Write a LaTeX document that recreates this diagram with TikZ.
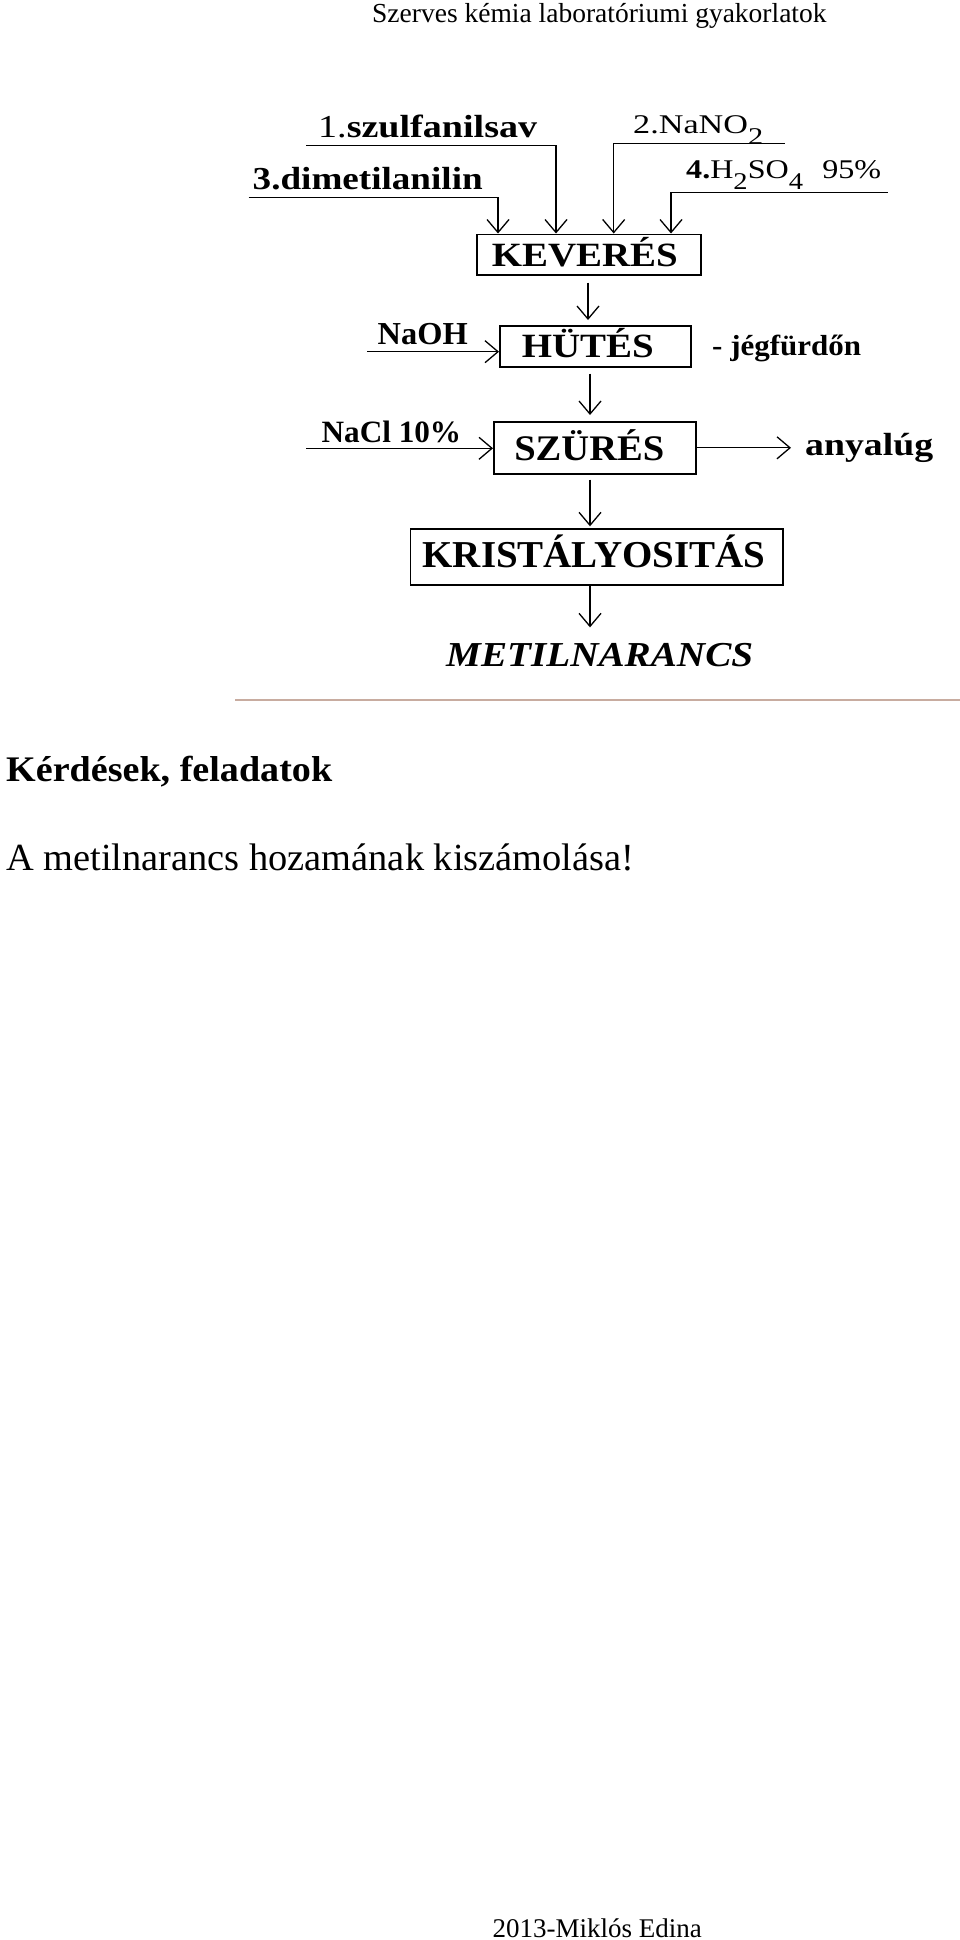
\documentclass[tikz,border=0pt]{standalone}
\usepackage{fontspec}
\setmainfont{Liberation Serif}
\usepackage{graphicx}
\usetikzlibrary{arrows.meta}
\definecolor{rulecol}{RGB}{200,172,160}
\newcommand{\wfit}[2]{\resizebox{#1}{\height}{#2}}
\newcommand{\fs}[1]{\fontsize{#1}{#1}\selectfont}
\begin{document}
\begin{tikzpicture}[x=1pt,y=-1pt]
\tikzset{
  box/.style={draw, line width=1.6pt, inner sep=0pt, text depth=0pt, anchor=north west},
  lbl/.style={inner sep=0pt, anchor=base west},
  arr/.style={line width=1.3pt, -{Straight Barb[length=13pt,width=22pt]}},
}
\fill[white] (0,0) rectangle (960,1940);
\useasboundingbox (0,0) rectangle (960,1940);

% header
\node[lbl] (hdr) at (372,23) {\fs{27.5}Szerves kémia laboratóriumi gyakorlatok};

% input labels
\node[lbl] (t1) at (318,137.5) {\wfit{219pt}{\fs{32}1.\textbf{szulfanilsav}}};
\node[lbl] (t3) at (252.5,189) {\wfit{230pt}{\fs{32}\textbf{3.dimetilanilin}}};
\node[lbl] (t2) at (633,134) {\wfit{130pt}{\fs{27}2.NaNO\raisebox{-0.4em}{\fs{24}2}}};
\node[lbl] (t4) at (686,178.5) {\wfit{195pt}{\fs{27}\textbf{4.}H\raisebox{-0.4em}{\fs{24}2}SO\raisebox{-0.4em}{\fs{24}4}\hspace{0.6em}95\%}};

% boxes
\node[box, minimum width=224pt, minimum height=40.5pt, text height=23.9pt] (kev) at (476,233.5)
  {\wfit{186pt}{\fs{34}\textbf{KEVERÉS}}\hspace*{8pt}};
\node[box, minimum width=191pt, minimum height=41pt, text height=22.4pt] (hut) at (499,325)
  {\wfit{132pt}{\fs{34}\textbf{HÜTÉS}}\hspace*{15pt}};
\node[box, minimum width=202pt, minimum height=52pt, text height=26pt] (szu) at (493,421)
  {\wfit{150pt}{\fs{36}\textbf{SZÜRÉS}}\hspace*{11pt}};
\node[box, minimum width=372.5pt, minimum height=56pt, text height=20.8pt] (kri) at (409.5,528.3)
  {\wfit{343pt}{\fs{38}\textbf{KRISTÁLYOSITÁS}}\hspace*{5pt}};
\node[lbl] (met) at (446,666.7) {\wfit{307pt}{\fs{35}\textbf{\textit{METILNARANCS}}}};

% side labels
\node[lbl] (naoh) at (377.5,344) {\wfit{90pt}{\fs{32}\textbf{NaOH}}};
\node[lbl] (jeg) at (712,355) {\wfit{149pt}{\fs{29}\textbf{- jégfürdőn}}};
\node[lbl] (nacl) at (321.4,442) {\wfit{139.6pt}{\fs{31}\textbf{NaCl 10\%}}};
\node[lbl] (any) at (805,455) {\wfit{128pt}{\fs{32}\textbf{anyalúg}}};

% input connectors
\coordinate (s1) at (306,145.7);
\coordinate (s3) at (248.7,197.3);
\coordinate (s2) at (784.5,143.3);
\coordinate (s4) at (887.5,192.7);
\draw[arr] (s1) -| ([xshift=80pt]kev.north west);
\draw[arr] (s3) -| ([xshift=22pt]kev.north west);
\draw[arr] (s2) -| ([xshift=137.7pt]kev.north west);
\draw[arr] (s4) -| ([xshift=195pt]kev.north west);

% flow
\coordinate (v1) at (588,0);
\coordinate (v2) at (590,0);
\draw[arr, shorten <=7pt, shorten >=5pt] (kev.south -| v1) -- (hut.north -| v1);
\draw[arr, shorten <=6pt, shorten >=6pt] (hut.south -| v2) -- (szu.north -| v2);
\draw[arr, shorten <=5pt, shorten >=2pt] (szu.south -| v2) -- (kri.north -| v2);
\draw[arr, shorten >=16pt] (kri.south -| v2) -- (met.north -| v2);

% side connectors
\coordinate (ns) at (367,351.7);
\coordinate (cs) at (306,448.3);
\draw[arr] (ns) -- (ns -| hut.west);
\draw[arr] (cs) -- (cs -| szu.west);
\draw[arr, shorten >=14pt] (szu.east) -- (szu.east -| any.west);

% rule
\coordinate (rl) at (235,700);
\coordinate (rr) at (960,700);
\draw[rulecol, line width=1.3pt] (rl) -- (rr);

% questions
\node[lbl] (q) at (6,781) {\wfit{326pt}{\fs{36}\textbf{Kérdések, feladatok}}};
\node[lbl] (a) at (6,870) {\fs{38.4}A metilnarancs hozamának kiszámolása!};

% footer
\node[lbl] (ft) at (492.5,1937) {\fs{27}2013-Miklós Edina};
\end{tikzpicture}
\end{document}
